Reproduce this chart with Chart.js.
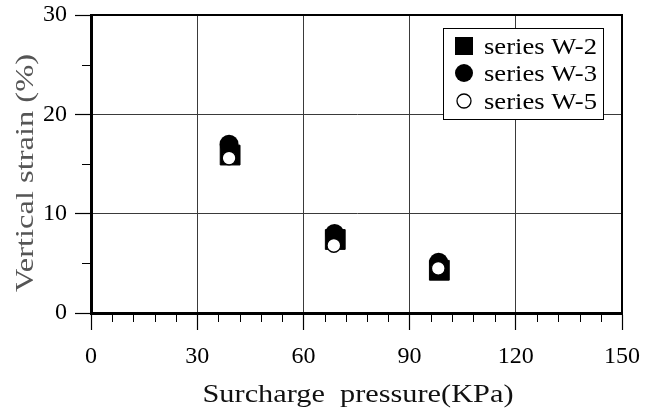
<!DOCTYPE html>
<html><head><meta charset="utf-8">
<style>html,body{margin:0;padding:0;background:#fff;} #wrap{width:656px;height:419px;}</style>
<script src="https://cdn.jsdelivr.net/npm/chart.js@4.4.0/dist/chart.umd.min.js"></script>
</head><body><div id="wrap"><canvas id="c" width="656" height="419"></canvas></div>
<script>
// ---- data ----
const seriesNames = ['series W-2', 'series W-3', 'series W-5'];
const w2X = [39.3, 69.0, 98.4];
const w2Y = [15.9, 7.4, 4.3];
const w3X = [39.0, 68.8, 98.2];
const w3Y = [17.0, 8.0, 5.1];
const w5X = [39.0, 68.6, 98.1];
const w5Y = [15.6, 6.8, 4.5];
const xTickStep = 30, xMinorStep = 6, xMin = 0, xMax = 150;
const yTickStep = 10, yMinorStep = 5, yMin = 0, yMax = 30;
const xTitle = 'Surcharge  pressure(KPa)';
const yTitle = 'Vertical strain (%)';

const FONT = '"Liberation Serif", "Times New Roman", Times, serif';
const toPts = (xs, ys) => xs.map((x, i) => ({x: x, y: ys[i]}));

function fitText(ctx, text, x, y, targetW, align) {
  const w = ctx.measureText(text).width;
  const sx = targetW / w;
  ctx.save();
  ctx.translate(x, y);
  ctx.scale(sx, 1);
  ctx.textAlign = align || 'left';
  ctx.fillText(text, 0, 0);
  ctx.restore();
}

const decor = {
  id: 'decor',
  afterDraw(chart) {
    const ctx = chart.ctx;
    const xs = chart.scales.x, ys = chart.scales.y;
    const ca = chart.chartArea;
    ctx.save();
    // top and right frame
    ctx.strokeStyle = '#000';
    ctx.lineWidth = 2;
    ctx.beginPath();
    ctx.moveTo(ca.left, ca.top);
    ctx.lineTo(ca.right, ca.top);
    ctx.lineTo(ca.right, ca.bottom);
    ctx.stroke();
    // minor ticks
    ctx.lineWidth = 1;
    ctx.beginPath();
    for (let v = yMin + yMinorStep; v < yMax; v += yMinorStep) {
      if (v % yTickStep === 0) continue;
      const py = Math.round(ys.getPixelForValue(v)) + 0.5;
      ctx.moveTo(ca.left - 9, py); ctx.lineTo(ca.left, py);
    }
    for (let v = xMin + xMinorStep; v < xMax; v += xMinorStep) {
      if (v % xTickStep === 0) continue;
      const px = Math.round(xs.getPixelForValue(v)) + 0.5;
      ctx.moveTo(px, ca.bottom); ctx.lineTo(px, ca.bottom + 9);
    }
    ctx.stroke();

    // legend
    const bx = 443, by = 28, bw = 160, bh = 91;
    ctx.fillStyle = '#fff';
    ctx.fillRect(bx, by, bw, bh);
    ctx.strokeStyle = '#000';
    ctx.lineWidth = 1;
    ctx.strokeRect(bx + 0.5, by + 0.5, bw, bh);
    const rows = [46, 73, 101];
    const mx = 464;
    ctx.fillStyle = '#000';
    ctx.fillRect(mx - 9, rows[0] - 9, 18, 18);
    ctx.beginPath(); ctx.arc(mx, rows[1], 9, 0, Math.PI * 2); ctx.fill();
    ctx.beginPath(); ctx.arc(mx, rows[2], 7, 0, Math.PI * 2);
    ctx.fillStyle = '#fff'; ctx.fill(); ctx.lineWidth = 1.3; ctx.strokeStyle = '#000'; ctx.stroke();
    ctx.fillStyle = '#000';
    ctx.font = '23px ' + FONT;
    ctx.textBaseline = 'alphabetic';
    seriesNames.forEach((n, i) => fitText(ctx, n, 484, rows[i] + 7.5, 113, 'left'));

    // axis titles
    ctx.fillStyle = '#111';
    ctx.font = '26px ' + FONT;
    fitText(ctx, xTitle, 358, 402, 311, 'center');
    ctx.save();
    ctx.fillStyle = '#555';
    ctx.font = '26px ' + FONT;
    ctx.translate(33, 173);
    ctx.rotate(-Math.PI / 2);
    fitText(ctx, yTitle, 0, 0, 238, 'center');
    ctx.restore();
    ctx.restore();
  }
};

function build() {
  new Chart(document.getElementById('c'), {
    type: 'scatter',
    data: {
      datasets: [
        {label: seriesNames[0], data: toPts(w2X, w2Y), pointStyle: 'rect', pointRadius: 14, order: 3,
         backgroundColor: '#000', borderColor: '#000', borderWidth: 1},
        {label: seriesNames[1], data: toPts(w3X, w3Y), pointStyle: 'circle', pointRadius: 9.5, order: 2,
         backgroundColor: '#000', borderColor: '#000', borderWidth: 0},
        {label: seriesNames[2], data: toPts(w5X, w5Y), pointStyle: 'circle', pointRadius: 6.8, order: 1,
         backgroundColor: '#fff', borderColor: '#000', borderWidth: 1.3}
      ]
    },
    options: {
      responsive: false, animation: false, devicePixelRatio: 1,
      layout: {padding: {top: 10, right: 34, left: 0, bottom: 0}},
      plugins: {legend: {display: false}, tooltip: {enabled: false}},
      scales: {
        x: {
          type: 'linear', min: xMin, max: xMax,
          afterFit: s => { s.height = 106; s.paddingLeft = 0; s.paddingRight = 0; },
          grid: {color: '#3a3a3a', lineWidth: 1, tickLength: 17, tickColor: '#000', tickWidth: 1.2},
          border: {color: '#000', width: 3},
          ticks: {stepSize: xTickStep, padding: 12, maxRotation: 0, color: '#000',
                  font: {family: FONT, size: 24}}
        },
        y: {
          type: 'linear', min: yMin, max: yMax,
          afterFit: s => { s.width = 91; s.paddingTop = 0; s.paddingBottom = 0; },
          grid: {color: '#3a3a3a', lineWidth: 1, tickLength: 16, tickColor: '#000', tickWidth: 1.2},
          border: {color: '#000', width: 3},
          ticks: {stepSize: yTickStep, padding: 8, color: '#000',
                  font: {family: FONT, size: 24, lineHeight: 1.05}}
        }
      }
    },
    plugins: [decor]
  });
}
if (document.fonts && document.fonts.load) {
  Promise.all([document.fonts.load('24px "Liberation Serif"'), document.fonts.load('24px "Times New Roman"')])
    .then(build, build);
} else { build(); }
</script>
</body></html>
